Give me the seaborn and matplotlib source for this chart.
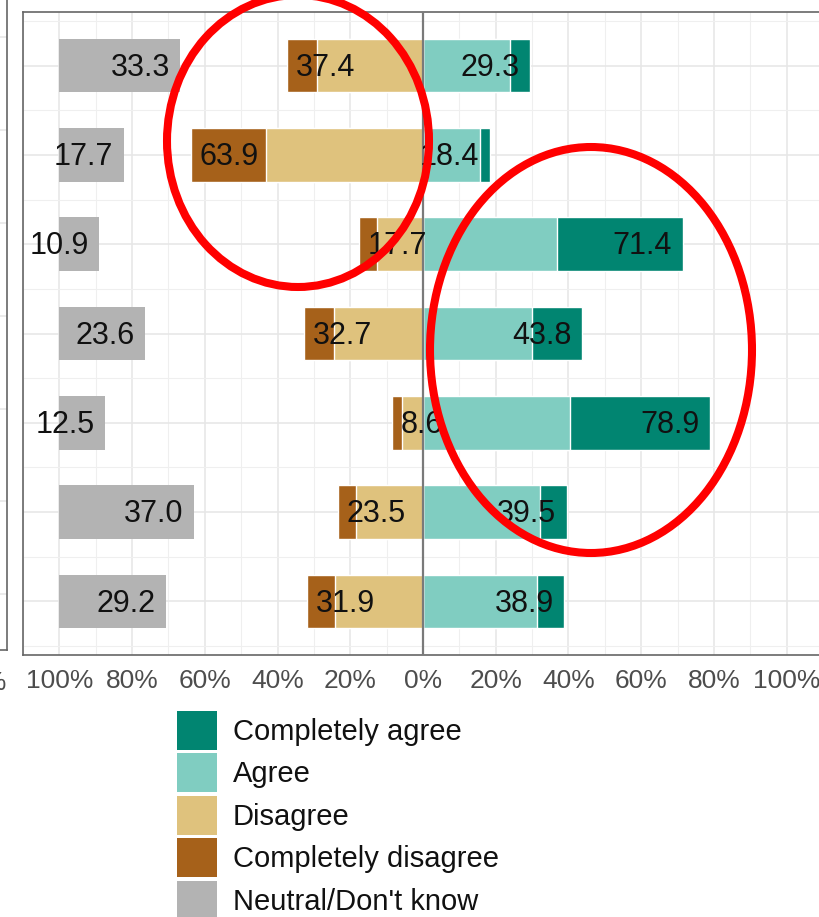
import matplotlib
matplotlib.use("Agg")
import matplotlib.pyplot as plt
from matplotlib.patches import Patch, Ellipse
from matplotlib.ticker import FixedLocator, FixedFormatter
import seaborn as sns
import pandas as pd
import numpy as np

# ---------------- data ----------------
items = ["Item 1", "Item 2", "Item 3", "Item 4", "Item 5", "Item 6", "Item 7"]
completely_agree = [5.5, 2.7, 34.5, 13.9, 38.4, 7.3, 7.6]
agree = [23.8, 15.7, 36.9, 29.9, 40.5, 32.2, 31.3]
disagree = [29.1, 43.2, 12.7, 24.4, 5.8, 18.5, 24.3]
completely_disagree = [8.3, 20.7, 5.0, 8.3, 2.8, 5.0, 7.6]
neutral = [33.3, 17.7, 10.9, 23.6, 12.5, 37.0, 29.2]
agree_labels = [29.3, 18.4, 71.4, 43.8, 78.9, 39.5, 38.9]
disagree_labels = [37.4, 63.9, 17.7, 32.7, 8.6, 23.5, 31.9]
tick_values = [-100, -80, -60, -40, -20, 0, 20, 40, 60, 80, 100]
tick_labels = ["100%", "80%", "60%", "40%", "20%", "0%", "20%", "40%", "60%", "80%", "100%"]
legend_labels = ["Completely agree", "Agree", "Disagree", "Completely disagree", "Neutral/Don't know"]

colors = {
    "Completely agree": "#018571",
    "Agree": "#80cdc1",
    "Disagree": "#dfc27d",
    "Completely disagree": "#a6611a",
    "Neutral/Don't know": "#b3b3b3",
}

df = pd.DataFrame({
    "item": items,
    "agree_total": np.array(agree) + np.array(completely_agree),
    "agree": agree,
    "disagree_total": -(np.array(disagree) + np.array(completely_disagree)),
    "disagree": -np.array(disagree),
    "neutral": neutral,
})

sns.set_style("white")
plt.rcParams["font.family"] = ["Liberation Sans", "DejaVu Sans"]

W, H = 820, 917
fig = plt.figure(figsize=(W / 100, H / 100), dpi=100)

# main panel: pixel geometry
left_px, right_px, top_px, bot_px = 23, 823, 12, 655
ax = fig.add_axes([left_px / W, 1 - bot_px / H, (right_px - left_px) / W, (bot_px - top_px) / H])

bar_w = 0.6
sns.barplot(data=df, y="item", x="agree_total", color=colors["Completely agree"], saturation=1,
            width=bar_w, orient="h", errorbar=None, ax=ax, order=items)
sns.barplot(data=df, y="item", x="agree", color=colors["Agree"], saturation=1,
            width=bar_w, orient="h", errorbar=None, ax=ax, order=items)
sns.barplot(data=df, y="item", x="disagree_total", color=colors["Completely disagree"], saturation=1,
            width=bar_w, orient="h", errorbar=None, ax=ax, order=items)
sns.barplot(data=df, y="item", x="disagree", color=colors["Disagree"], saturation=1,
            width=bar_w, orient="h", errorbar=None, ax=ax, order=items)
ypos = np.arange(len(items))
ax.barh(ypos, df["neutral"], left=-100, height=bar_w, color=colors["Neutral/Don't know"], linewidth=0)

ax.axvline(0, color="#7a7a7a", lw=1.6, zorder=3)

lab_fs = 22
for i in range(len(items)):
    ax.annotate(f"{neutral[i]:.1f}", xy=(-100 + neutral[i], i), xytext=(-7.5, -1.5),
                textcoords="offset points", ha="right", va="center", fontsize=lab_fs,
                color="#111111", zorder=5)
    ax.annotate(f"{disagree_labels[i]:.1f}", xy=(-disagree_labels[i], i), xytext=(6.5, -1.5),
                textcoords="offset points", ha="left", va="center", fontsize=lab_fs,
                color="#111111", zorder=5)
    ax.annotate(f"{agree_labels[i]:.1f}", xy=(agree_labels[i], i), xytext=(-7.5, -1.5),
                textcoords="offset points", ha="right", va="center", fontsize=lab_fs,
                color="#111111", zorder=5)

ax.set_xlim(-110, 110)
ax.set_ylim(len(items) - 0.4, -0.6)
ax.set_xlabel("")
ax.set_ylabel("")

ax.xaxis.set_major_locator(FixedLocator(tick_values))
ax.xaxis.set_major_formatter(FixedFormatter(tick_labels))
ax.xaxis.set_minor_locator(FixedLocator(np.arange(-110, 111, 20)))
ax.yaxis.set_major_locator(FixedLocator(ypos))
ax.yaxis.set_major_formatter(FixedFormatter([""] * len(items)))
ax.yaxis.set_minor_locator(FixedLocator(np.arange(-0.5, len(items), 1.0)))

ax.set_axisbelow(True)
ax.grid(which="major", color="#e6e6e6", lw=1.1)
ax.grid(which="minor", color="#efefef", lw=0.8)
ax.tick_params(which="major", length=5, width=1.1, color="#333333", labelsize=19,
               labelcolor="#4d4d4d", pad=5)
ax.tick_params(which="minor", length=0)
for s in ax.spines.values():
    s.set_color("#666666")
    s.set_linewidth(1.2)

# partially visible neighbouring panel on the far left
ax0 = fig.add_axes([-0.9, 1 - 650 / H, 0.9 + 7 / W, 650 / H + 0.02])
ax0.set_xlim(0, 1)
ax0.set_ylim(len(items) - 0.4, -0.6)
ax0.set_xticks([])
ax0.set_yticks(ypos)
ax0.set_yticklabels([])
ax0.tick_params(length=0)
ax0.grid(axis="y", color="#e6e6e6", lw=1.1)
for s in ax0.spines.values():
    s.set_color("#666666")
    s.set_linewidth(1.2)
fig.text(6 / W, 1 - 683 / H, "100%", ha="right", va="center", fontsize=19, color="#4d4d4d")

# legend
handles = [Patch(facecolor=colors[k], edgecolor="none", label=k) for k in legend_labels]
leg = fig.legend(handles=handles, loc="upper left", bbox_to_anchor=(177 / W, 1 - 711 / H),
                 frameon=False, fontsize=21, handlelength=1.37, handleheight=1.68,
                 labelspacing=0.12, handletextpad=0.55, borderpad=0, borderaxespad=0)
for t in leg.get_texts():
    t.set_color("#111111")

# red highlight ellipses
for cx, cy, ew, eh in [(298, 141, 262, 292), (591, 350, 322, 406)]:
    fig.patches.append(Ellipse((cx / W, 1 - cy / H), ew / W, eh / H, transform=fig.transFigure,
                               fill=False, edgecolor="#ff0000", lw=5.8, zorder=10))

fig.savefig("out.png", dpi=100)
